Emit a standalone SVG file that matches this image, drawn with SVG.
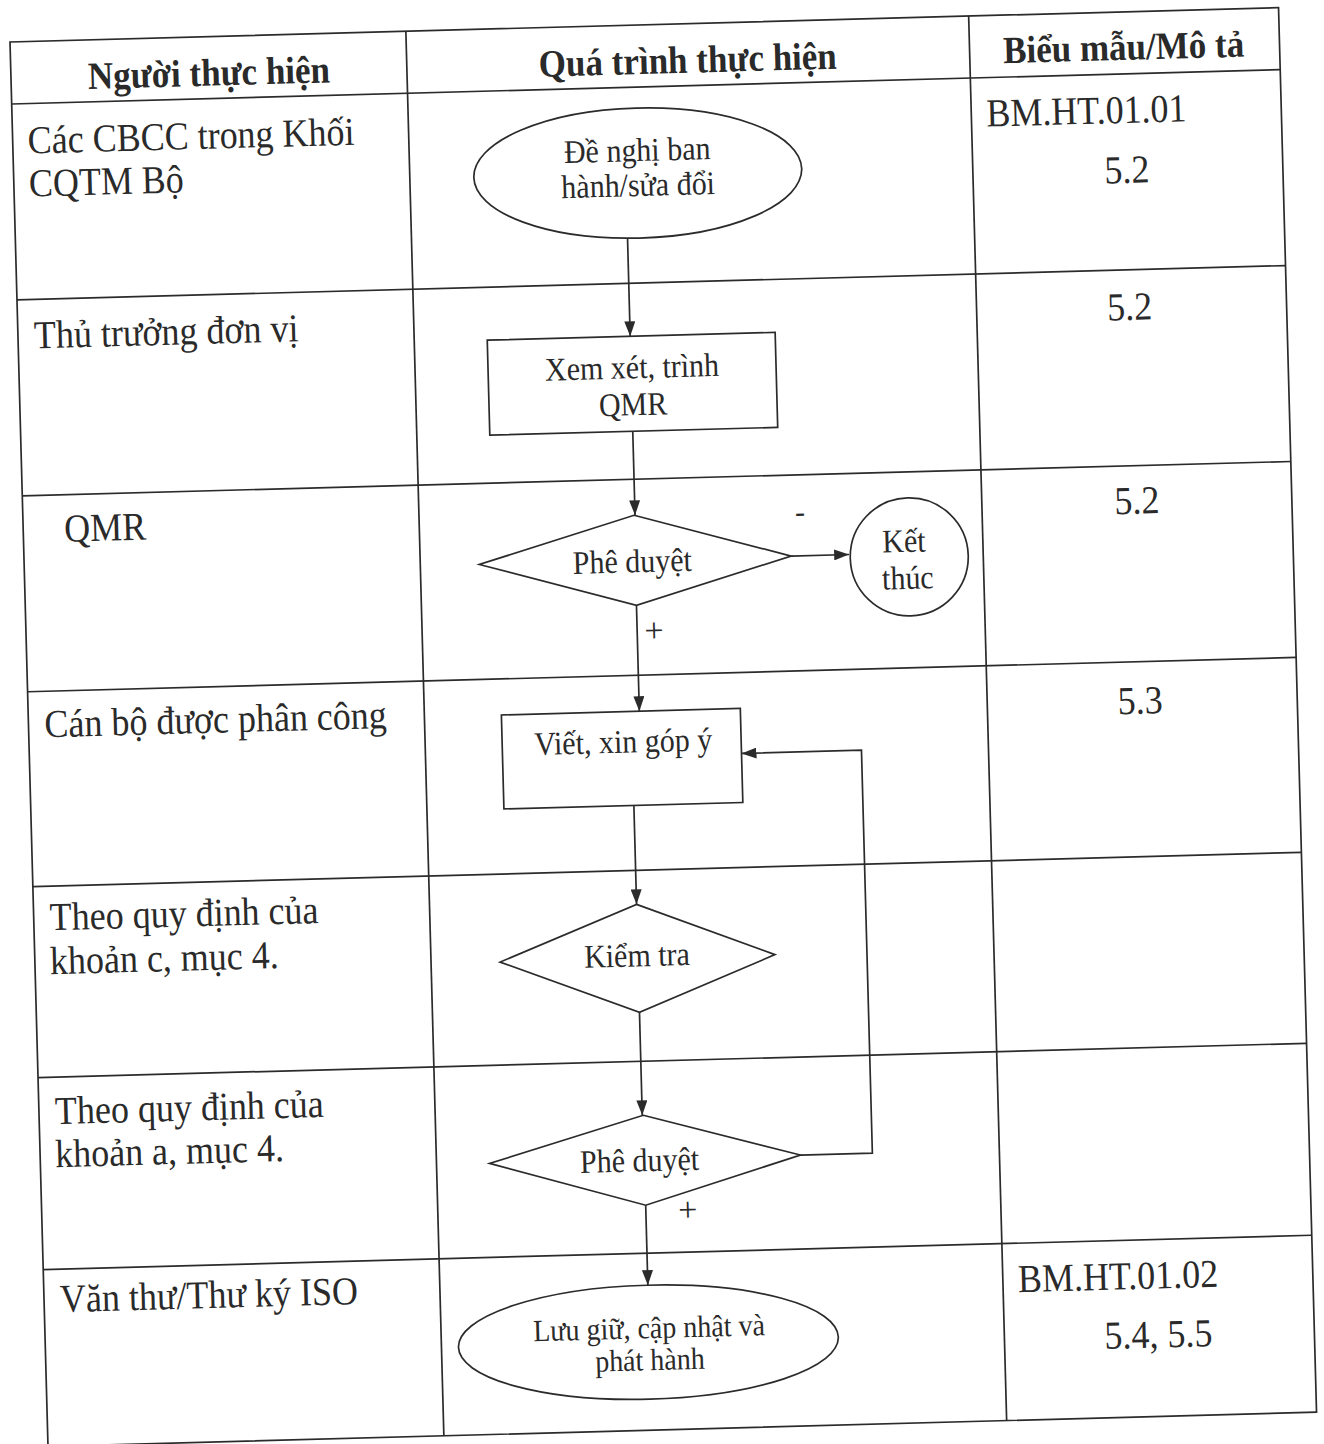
<svg xmlns="http://www.w3.org/2000/svg" width="1324" height="1444" viewBox="0 0 1324 1444">
<style>
.grid{stroke:#2b2b2b;stroke-width:1.7;fill:none}
.shape{stroke:#2b2b2b;stroke-width:1.7;fill:#ffffff}
.conn{stroke:#2b2b2b;stroke-width:1.7;fill:none}
.hd{font-family:"Liberation Serif","Times New Roman",serif;font-weight:bold;font-size:35px;fill:#2a2a2a;text-anchor:middle}
.t{font-family:"Liberation Serif","Times New Roman",serif;font-size:36px;fill:#2a2a2a}
.n{font-family:"Liberation Serif","Times New Roman",serif;font-size:30px;fill:#2a2a2a;text-anchor:middle}
.c{text-anchor:middle}
</style>
<defs>
<marker id="arr" viewBox="0 0 15 11" refX="15" refY="5.5" markerWidth="15" markerHeight="11" markerUnits="userSpaceOnUse" orient="auto">
<path d="M0,0 L15,5.5 L0,11 z" fill="#2b2b2b"/>
</marker>
</defs>
<rect x="0" y="0" width="1324" height="1444" fill="#ffffff"/>
<g transform="translate(10,42) rotate(-1.55)">
<g id="table">
<rect class="grid" x="0" y="0" width="1269" height="1405"/>
<line class="grid" x1="396" y1="0" x2="396" y2="1405"/>
<line class="grid" x1="959" y1="0" x2="959" y2="1405"/>
<line class="grid" x1="0" y1="62" x2="1269" y2="62"/>
<line class="grid" x1="0" y1="258" x2="1269" y2="258"/>
<line class="grid" x1="0" y1="454" x2="1269" y2="454"/>
<line class="grid" x1="0" y1="650" x2="1269" y2="650"/>
<line class="grid" x1="0" y1="845" x2="1269" y2="845"/>
<line class="grid" x1="0" y1="1036" x2="1269" y2="1036"/>
<line class="grid" x1="0" y1="1228" x2="1269" y2="1228"/>
</g>
<g id="headers">
<text class="hd" transform="translate(198,49) scale(1,1.1)">Người thực hiện</text>
<text class="hd" transform="translate(677,49) scale(1,1.1)">Quá trình thực hiện</text>
<text class="hd" transform="translate(1113,48) scale(1,1.1)">Biểu mẫu/Mô tả</text>
</g>
<g id="performers">
<text class="t" transform="translate(15,112) scale(1,1.1)">Các CBCC trong Khối</text>
<text class="t" transform="translate(15,155) scale(1,1.1)">CQTM Bộ</text>
<text class="t" transform="translate(16,307) scale(1,1.1)">Thủ trưởng đơn vị</text>
<text class="t" transform="translate(41,501) scale(1,1.1)">QMR</text>
<text class="t" transform="translate(16,696) scale(1,1.1)">Cán bộ được phân công</text>
<text class="t" transform="translate(16,889) scale(1,1.1)">Theo quy định của</text>
<text class="t" transform="translate(15,933) scale(1,1.1)">khoản c, mục 4.</text>
<text class="t" transform="translate(16,1083) scale(1,1.1)">Theo quy định của</text>
<text class="t" transform="translate(15,1126) scale(1,1.1)">khoản a, mục 4.</text>
<text class="t" transform="translate(16,1271) scale(1,1.1)">Văn thư/Thư ký ISO</text>
</g>
<g id="forms">
<text class="t" transform="translate(974,111) scale(1,1.1)">BM.HT.01.01</text>
<text class="t c" transform="translate(1113,171) scale(1,1.1)">5.2</text>
<text class="t c" transform="translate(1112,308) scale(1,1.1)">5.2</text>
<text class="t c" transform="translate(1114,502) scale(1,1.1)">5.2</text>
<text class="t c" transform="translate(1112,702) scale(1,1.1)">5.3</text>
<text class="t" transform="translate(974,1277) scale(1,1.1)">BM.HT.01.02</text>
<text class="t c" transform="translate(1113,1336) scale(1,1.1)">5.4, 5.5</text>
</g>
<g id="connectors">
<line class="conn" x1="612" y1="213" x2="612" y2="311" marker-end="url(#arr)"/>
<line class="conn" x1="612" y1="406" x2="612" y2="490" marker-end="url(#arr)"/>
<line class="conn" x1="767" y1="535" x2="825" y2="535" marker-end="url(#arr)"/>
<line class="conn" x1="611" y1="580" x2="611" y2="686" marker-end="url(#arr)"/>
<line class="conn" x1="603" y1="780" x2="603" y2="879" marker-end="url(#arr)"/>
<line class="conn" x1="603" y1="987" x2="603" y2="1090" marker-end="url(#arr)"/>
<line class="conn" x1="604" y1="1180" x2="604" y2="1260" marker-end="url(#arr)"/>
<polyline class="conn" points="760,1134 832,1134 832,731 712,731" marker-end="url(#arr)"/>
<text class="n" x="777" y="501">-</text>
<text class="n" x="628" y="617" style="font-size:34px">+</text>
<text class="n" x="646" y="1197" style="font-size:34px">+</text>
</g>
<g id="n-denghi">
<ellipse class="shape" cx="624" cy="148" rx="164" ry="65"/>
<text class="n" transform="translate(624,136) scale(1,1.1)">Đề nghị ban</text>
<text class="n" transform="translate(624,171) scale(1,1.1)">hành/sửa đổi</text>
</g>
<g id="n-xemxet">
<rect class="shape" x="469" y="311" width="288" height="95"/>
<text class="n" transform="translate(613,353) scale(1,1.1)">Xem xét, trình</text>
<text class="n" transform="translate(613,390) scale(1,1.1)">QMR</text>
</g>
<g id="n-pheduyet1">
<polygon class="shape" points="611,490 767,535 611,580 455,535"/>
<text class="n" transform="translate(608,547) scale(1,1.1)">Phê duyệt</text>
</g>
<g id="n-ketthuc">
<circle class="shape" cx="885" cy="539" r="59"/>
<text class="n" transform="translate(880,534) scale(1,1.1)">Kết</text>
<text class="n" transform="translate(883,571) scale(1,1.1)">thúc</text>
</g>
<g id="n-viet">
<rect class="shape" x="473" y="686" width="239" height="94"/>
<text class="n" transform="translate(594,727) scale(1,1.1)">Viết, xin góp ý</text>
</g>
<g id="n-kiemtra">
<polygon class="shape" points="603,879 740,933 603,987 465,933"/>
<text class="n" transform="translate(602,941) scale(1,1.1)">Kiểm tra</text>
</g>
<g id="n-pheduyet2">
<polygon class="shape" points="604,1090 760,1134 604,1180 449,1134"/>
<text class="n" transform="translate(599,1146) scale(1,1.1)">Phê duyệt</text>
</g>
<g id="n-luugiu">
<ellipse class="shape" cx="603" cy="1317" rx="190" ry="57"/>
<text class="n" transform="translate(604,1313) scale(1,1.1)" style="font-size:28px">Lưu giữ, cập nhật và</text>
<text class="n" transform="translate(604,1345) scale(1,1.1)" style="font-size:28px">phát hành</text>
</g>
</g>
</svg>
